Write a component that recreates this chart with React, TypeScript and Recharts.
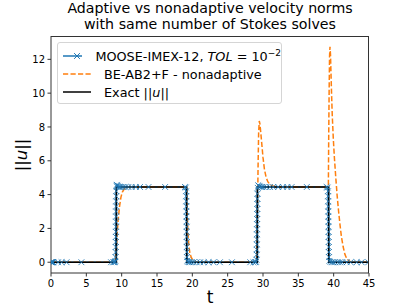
import { LineChart, Line, XAxis, YAxis } from 'recharts';

const xTicks = [0, 5, 10, 15, 20, 25, 30, 35, 40, 45];
const yTicks = [0, 2, 4, 6, 8, 10, 12];

// exact step solution
const exactT = [0, 9.25, 9.25, 19.2, 19.2, 29.2, 29.2, 39.3, 39.3, 45];
const exactU = [0, 0, 4.45, 4.45, 0, 0, 4.45, 4.45, 0, 0];

// nonadaptive BE-AB2+F
const bdfT = [
  0, 9.15, 9.25, 9.35, 9.5, 9.7, 9.9, 10.1, 10.4, 10.8, 11.3, 19.2,
  19.25, 19.3, 19.4, 19.5, 19.65, 19.85, 20.1, 20.5, 21.0, 29.15,
  29.22, 29.3, 29.38, 29.47, 29.56, 29.7, 29.85, 30.0, 30.2, 30.45, 30.7, 31.1, 31.6, 32.4, 39.25,
  39.3, 39.36, 39.42, 39.48, 39.55, 39.62, 39.7, 39.8, 39.95, 40.1, 40.3, 40.5, 40.7, 40.9, 41.1, 41.35, 41.6, 41.9, 42.3, 42.8, 45,
];
const bdfU = [
  0, 0, 0.7, 1.6, 2.5, 3.3, 3.85, 4.15, 4.35, 4.43, 4.45, 4.45,
  3.6, 2.6, 1.6, 1.0, 0.55, 0.28, 0.1, 0.03, 0, 0,
  2.8, 5.6, 7.6, 8.35, 8.2, 7.6, 6.9, 6.2, 5.5, 5.0, 4.75, 4.55, 4.48, 4.45, 4.45,
  7.5, 10.2, 12.2, 12.74, 12.3, 11.2, 10.0, 8.7, 7.3, 6.2, 5.0, 3.9, 3.0, 2.2, 1.5, 0.9, 0.45, 0.17, 0.05, 0.01, 0,
];

// adaptive MOOSE-IMEX-12
const mooseT = [
  0, 0.05, 0.1, 0.17, 0.25, 0.33, 1.0, 1.5, 2.2, 4.3, 8.5, 8.8, 8.95, 9.05, 9.1,
  9.13, 9.15, 9.16, 9.17, 9.18, 9.19, 9.2, 9.2, 9.21, 9.21, 9.22, 9.22, 9.23, 9.24,
  9.27, 9.32, 9.4, 9.5, 9.62, 9.78, 9.98, 10.25, 10.55, 10.95, 11.4, 12.0, 12.6, 13.8, 16.15, 18.95, 19.08,
  19.12, 19.13, 19.14, 19.15, 19.16, 19.17, 19.18, 19.19, 19.2, 19.2, 19.21, 19.22, 19.23, 19.25,
  19.3, 19.38, 19.5, 19.65, 19.9, 20.2, 20.6, 21.1, 21.6, 22.3, 23.0, 23.9, 25.6, 28.2, 28.65, 28.9, 29.02,
  29.08, 29.1, 29.11, 29.12, 29.13, 29.14, 29.15, 29.16, 29.17, 29.18, 29.19, 29.2, 29.21, 29.22,
  29.26, 29.32, 29.4, 29.5, 29.65, 29.85, 30.1, 30.5, 31.0, 31.45, 32.15, 32.8, 33.45, 34.05, 36.2, 39.0, 39.15,
  39.2, 39.21, 39.22, 39.23, 39.24, 39.25, 39.26, 39.27, 39.28, 39.29, 39.3, 39.31, 39.32, 39.34,
  39.4, 39.55, 39.75, 39.95, 40.2, 40.6, 40.9, 41.2, 41.85, 42.4, 43.25, 43.95, 44.9,
];
const mooseU = [
  0, 0, 0, 0, 0, 0, 0, 0, 0, 0, 0, 0, 0, 0.02, 0.08,
  0.3, 0.6, 0.9, 1.2, 1.5, 1.8, 2.1, 2.4, 2.7, 3.0, 3.3, 3.6, 3.9, 4.2,
  4.5, 4.58, 4.52, 4.48, 4.46, 4.45, 4.45, 4.45, 4.45, 4.45, 4.45, 4.45, 4.45, 4.45, 4.45, 4.45, 4.42,
  4.2, 3.9, 3.6, 3.3, 3.0, 2.7, 2.4, 2.1, 1.8, 1.5, 1.2, 0.9, 0.6, 0.3,
  0.1, 0.03, 0.01, 0, 0, 0, 0, 0, 0, 0, 0, 0, 0, 0, 0, 0, 0.02,
  0.15, 0.45, 0.75, 1.05, 1.35, 1.65, 1.95, 2.25, 2.55, 2.85, 3.15, 3.45, 3.75, 4.05,
  4.4, 4.55, 4.52, 4.48, 4.46, 4.45, 4.45, 4.45, 4.45, 4.45, 4.45, 4.45, 4.45, 4.45, 4.45, 4.45, 4.42,
  4.2, 3.9, 3.6, 3.3, 3.0, 2.7, 2.4, 2.1, 1.8, 1.5, 1.2, 0.9, 0.6, 0.3,
  0.08, 0.02, 0, 0, 0, 0, 0, 0, 0, 0, 0, 0, 0,
];

const exactData = exactT.map((t, i) => ({ t, u: exactU[i] }));
const bdfData = bdfT.map((t, i) => ({ t, u: bdfU[i] }));
const mooseData = mooseT.map((t, i) => ({ t, u: mooseU[i] }));

const BLUE = '#1f77b4';
const ORANGE = '#ff7f0e';
const FONT = 'DejaVu Sans, sans-serif';

const XMarker = (props: any) => {
  const { cx, cy, index } = props;
  if (cx == null || cy == null) return <g key={index} />;
  const r = 2.9;
  return (
    <path
      key={index}
      d={`M${cx - r},${cy - r}L${cx + r},${cy + r}M${cx - r},${cy + r}L${cx + r},${cy - r}`}
      stroke={BLUE}
      strokeWidth={1}
      strokeOpacity={0.85}
      fill="none"
    />
  );
};

function LegendRow({ kind, children }: { kind: string; children: any }) {
  return (
    <div style={{ display: 'flex', alignItems: 'center', height: 18 }}>
      <svg width={28} height={10} style={{ marginRight: 13 }}>
        {kind === 'moose' && (
          <>
            <line x1={0} y1={5} x2={28} y2={5} stroke={BLUE} strokeWidth={1.5} />
            <path d="M11.1,2.1L16.9,7.9M11.1,7.9L16.9,2.1" stroke={BLUE} strokeWidth={1} />
          </>
        )}
        {kind === 'bdf' && (
          <line x1={0} y1={5} x2={28} y2={5} stroke={ORANGE} strokeWidth={1.5} strokeDasharray="5.2 2.3" />
        )}
        {kind === 'exact' && <line x1={0} y1={5} x2={28} y2={5} stroke="#000" strokeWidth={1.5} />}
      </svg>
      <span>{children}</span>
    </div>
  );
}

export default function App() {
  return (
    <div
      style={{
        position: 'absolute',
        left: 0,
        top: 0,
        width: 411,
        height: 308,
        background: '#fff',
        fontFamily: FONT,
        color: '#000',
      }}
    >
      <div
        style={{
          position: 'absolute',
          left: 51,
          width: 318,
          top: 1,
          textAlign: 'center',
          fontSize: 14.2,
          lineHeight: '15.5px',
          whiteSpace: 'nowrap',
        }}
      >
        Adaptive vs nonadaptive velocity norms
        <br />
        with same number of Stokes solves
      </div>

      <LineChart
        width={411}
        height={308}
        margin={{ top: 36, right: 42, bottom: 10, left: 11 }}
        style={{ position: 'absolute', left: 0, top: 0 }}
      >
        <XAxis
          dataKey="t"
          type="number"
          domain={[0, 45]}
          ticks={xTicks}
          allowDataOverflow
          height={25}
          tickSize={3.5}
          tickMargin={3}
          axisLine={{ stroke: '#333' }}
          tickLine={{ stroke: '#333' }}
          tick={{ fill: '#000', fontSize: 10, fontFamily: FONT }}
          interval={0}
        />
        <YAxis
          dataKey="u"
          type="number"
          domain={[-0.637, 13.38]}
          ticks={yTicks}
          allowDataOverflow
          width={40}
          tickSize={3.5}
          tickMargin={2.5}
          axisLine={{ stroke: '#333' }}
          tickLine={{ stroke: '#333' }}
          tick={{ fill: '#000', fontSize: 10, fontFamily: FONT }}
          interval={0}
        />
        <Line
          data={mooseData}
          dataKey="u"
          type="linear"
          stroke={BLUE}
          strokeWidth={1.5}
          dot={XMarker}
          activeDot={false}
          isAnimationActive={false}
        />
        <Line
          data={bdfData}
          dataKey="u"
          type="linear"
          stroke={ORANGE}
          strokeWidth={1.5}
          strokeDasharray="5.2 2.3"
          dot={false}
          activeDot={false}
          isAnimationActive={false}
        />
        <Line
          data={exactData}
          dataKey="u"
          type="linear"
          stroke="#000"
          strokeWidth={1.6}
          dot={false}
          activeDot={false}
          isAnimationActive={false}
        />
      </LineChart>

      {/* top and right spines */}
      <div
        style={{
          position: 'absolute',
          left: 51,
          top: 36,
          width: 318,
          height: 237,
          borderTop: '1px solid #333',
          borderRight: '1px solid #333',
          boxSizing: 'border-box',
          pointerEvents: 'none',
        }}
      />

      <div
        style={{
          position: 'absolute',
          left: 57,
          top: 42,
          width: 225,
          height: 62,
          boxSizing: 'border-box',
          border: '1px solid #d5d5d5',
          borderRadius: 3,
          background: 'rgba(255,255,255,0.8)',
          padding: '4px 0 0 5px',
          fontSize: 12.8,
          whiteSpace: 'nowrap',
        }}
      >
        <LegendRow kind="moose">
          MOOSE-IMEX-12, <i>TOL</i> = 10<sup style={{ fontSize: 9, verticalAlign: 5 }}>−2</sup>
        </LegendRow>
        <LegendRow kind="bdf">BE-AB2+F - nonadaptive</LegendRow>
        <LegendRow kind="exact">
          Exact ||<i>u</i>||
        </LegendRow>
      </div>

      <div
        style={{
          position: 'absolute',
          left: 21,
          top: 155,
          transform: 'translate(-50%, -50%) rotate(-90deg)',
          fontSize: 16.5,
          whiteSpace: 'nowrap',
        }}
      >
        ||<i>u</i>||
      </div>

      <div
        style={{
          position: 'absolute',
          left: 210,
          top: 297,
          transform: 'translate(-50%, -50%)',
          fontSize: 17,
        }}
      >
        t
      </div>
    </div>
  );
}
